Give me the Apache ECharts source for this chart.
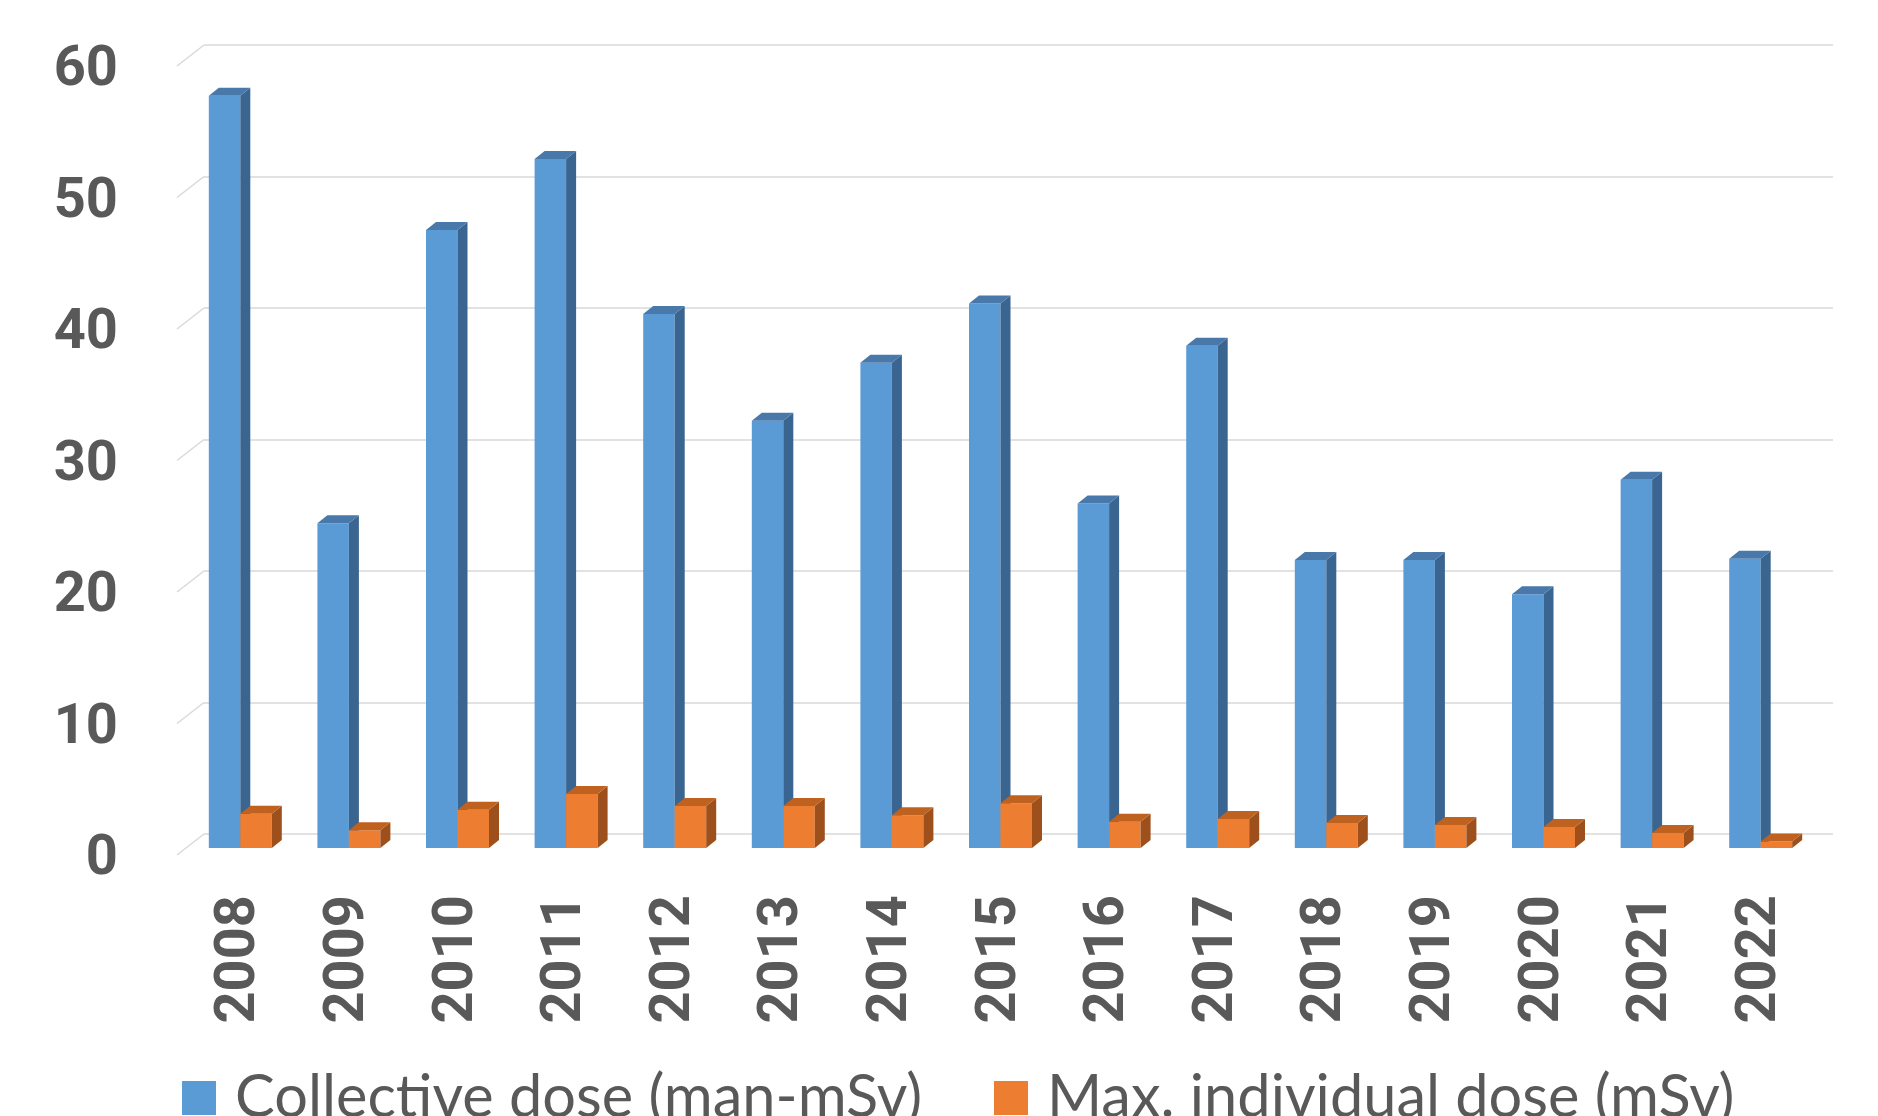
<!DOCTYPE html>
<html>
<head>
<meta charset="utf-8">
<title>Collective and maximum individual dose, 2008–2022</title>
<script src="https://cdn.jsdelivr.net/npm/echarts@6/dist/echarts.min.js"></script>
<style>
  html, body { margin: 0; padding: 0; background: #ffffff; }
  #chart { width: 1878px; height: 1116px; }
</style>
</head>
<body>
<div id="chart"></div>
<script>
// Years on the category axis
const categories = ['2008', '2009', '2010', '2011', '2012', '2013', '2014', '2015',
                    '2016', '2017', '2018', '2019', '2020', '2021', '2022'];

// Collective dose, man-mSv
const collectiveDose = [57.2, 24.7, 47.0, 52.4, 40.6, 32.5, 36.9, 41.4,
                        26.2, 38.2, 21.9, 21.9, 19.3, 28.0, 22.0];

// Maximum individual dose, mSv
const maxIndividualDose = [2.6, 1.35, 2.9, 4.1, 3.2, 3.2, 2.5, 3.4,
                           2.0, 2.2, 1.9, 1.75, 1.6, 1.15, 0.5];

// Value-axis ticks
const yTicks = [0, 10, 20, 30, 40, 50, 60];

const seriesNames = ['Collective dose (man-mSv)', 'Max. individual dose (mSv)'];

// Pseudo-3D geometry: parallel planes (floor front edge, bar front faces, back wall)
const PLOT_W = 1629, PLOT_H = 789;
const FRONT = { left: 177, bottom: 855 };
const WALL_DX = 27, WALL_DY = 21;    // back wall offset from the front edge
const BAR_DX0 = 9, BAR_DY0 = 7;      // bar front faces offset from the front edge
const BAR_DX = 10, BAR_DY = 8;       // bar depth
const BAR_FRACTION = 0.29;           // bar width as a share of the category band
const LABEL_DROP = 5;                // value labels sit slightly below their tick

const palette = {
  blue:   { front: '#5B9BD5', side: '#3A6590', top: '#4879AA' },
  orange: { front: '#ED7D31', side: '#9E501C', top: '#C0621F' }
};

function gridAt(dx, dy) {
  return { left: FRONT.left + dx, top: FRONT.bottom - dy - PLOT_H, width: PLOT_W, height: PLOT_H };
}

function barRenderer(side, colors) {
  return function (params, api) {
    const idx = api.value(0);
    const val = api.value(1);
    const base = api.coord([idx, 0]);
    const top = api.coord([idx, val]);
    const w = api.size([1, 0])[0] * BAR_FRACTION;
    const x0 = side < 0 ? base[0] - w : base[0];
    const x1 = x0 + w;
    const yb = base[1], yt = top[1];
    return {
      type: 'group',
      children: [
        { type: 'rect', shape: { x: x0, y: yt, width: w, height: yb - yt },
          style: { fill: colors.front } },
        { type: 'polygon',
          shape: { points: [[x1, yb], [x1, yt], [x1 + BAR_DX, yt - BAR_DY], [x1 + BAR_DX, yb - BAR_DY]] },
          style: { fill: colors.side } },
        { type: 'polygon',
          shape: { points: [[x0, yt], [x1, yt], [x1 + BAR_DX, yt - BAR_DY], [x0 + BAR_DX, yt - BAR_DY]] },
          style: { fill: colors.top } }
      ]
    };
  };
}

// Short receding lines joining each tick on the front edge to the back wall
function tickDiagonal(params, api) {
  const y = api.coord([0, api.value(1)])[1];
  const x = params.coordSys.x;
  return {
    type: 'line',
    shape: { x1: x, y1: y, x2: x + WALL_DX, y2: y - WALL_DY },
    style: { stroke: '#D9D9D9', lineWidth: 1.5 }
  };
}

const labelColor = '#595959';
const valueAxisBase = { type: 'value', min: 0, max: 60, interval: 10 };

const legendText = { color: labelColor, fontFamily: 'Lato', fontSize: 59.5, padding: [0, 0, 0, 14] };

const option = {
  backgroundColor: '#ffffff',
  animation: false,
  grid: [
    gridAt(0, 0),                    // front edge
    gridAt(BAR_DX0, BAR_DY0),        // bar front faces, year labels
    gridAt(WALL_DX, WALL_DY),        // back wall: gridlines
    gridAt(0, -LABEL_DROP)           // value labels
  ],
  xAxis: [
    { type: 'category', gridIndex: 0, data: categories, show: false },
    { type: 'category', gridIndex: 1, data: categories,
      axisLine: { show: false }, axisTick: { show: false },
      axisLabel: { rotate: 90, margin: 47, color: labelColor,
                   fontFamily: 'Roboto', fontWeight: 'bold', fontSize: 56 } },
    { type: 'category', gridIndex: 2, data: categories, show: false },
    { type: 'category', gridIndex: 3, data: categories, show: false }
  ],
  yAxis: [
    Object.assign({ gridIndex: 0, show: false, splitLine: { show: false } }, valueAxisBase),
    Object.assign({ gridIndex: 1, show: false, splitLine: { show: false } }, valueAxisBase),
    Object.assign({ gridIndex: 2,
      axisLine: { show: false }, axisTick: { show: false }, axisLabel: { show: false },
      splitLine: { show: true, lineStyle: { color: '#D9D9D9', width: 1.5 } } }, valueAxisBase),
    Object.assign({ gridIndex: 3,
      axisLine: { show: false }, axisTick: { show: false }, splitLine: { show: false },
      axisLabel: { margin: 59, color: labelColor, fontFamily: 'Roboto', fontWeight: 'bold', fontSize: 56,
                   formatter: v => String(v) } }, valueAxisBase)
  ],
  legend: [
    { left: 182, top: 1068, padding: 0, itemWidth: 34, itemHeight: 34, icon: 'rect',
      data: [seriesNames[0]], selectedMode: false, textStyle: legendText },
    { left: 994, top: 1068, padding: 0, itemWidth: 34, itemHeight: 34, icon: 'rect',
      data: [seriesNames[1]], selectedMode: false, textStyle: legendText }
  ],
  series: [
    { type: 'custom', name: 'tick-diagonals', xAxisIndex: 0, yAxisIndex: 0, silent: true,
      renderItem: tickDiagonal, data: yTicks.map(v => [0, v]), encode: { x: 0, y: 1 } },
    { type: 'custom', name: seriesNames[0], xAxisIndex: 1, yAxisIndex: 1,
      itemStyle: { color: palette.blue.front },
      renderItem: barRenderer(-1, palette.blue),
      data: collectiveDose.map((v, i) => [i, v]), encode: { x: 0, y: 1 } },
    { type: 'custom', name: seriesNames[1], xAxisIndex: 1, yAxisIndex: 1,
      itemStyle: { color: palette.orange.front },
      renderItem: barRenderer(1, palette.orange),
      data: maxIndividualDose.map((v, i) => [i, v]), encode: { x: 0, y: 1 } }
  ]
};

const chart = echarts.init(document.getElementById('chart'), null, { renderer: 'canvas' });
chart.setOption(option);
</script>
</body>
</html>
